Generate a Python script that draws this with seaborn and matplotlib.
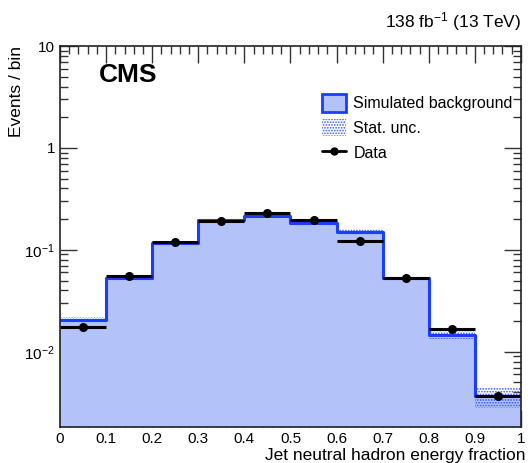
import numpy as np
import matplotlib
matplotlib.use("Agg")
import matplotlib.pyplot as plt
import matplotlib.ticker as mticker
from matplotlib.patches import Patch
from matplotlib.lines import Line2D
import seaborn as sns

# bin edges / centres of the jet neutral hadron energy fraction
edges = [0.0, 0.1, 0.2, 0.3, 0.4, 0.5, 0.6, 0.7, 0.8, 0.9, 1.0]
centers = [0.05, 0.15, 0.25, 0.35, 0.45, 0.55, 0.65, 0.75, 0.85, 0.95]

# simulated background (normalised) and data
background = [0.0206, 0.0535, 0.1176, 0.197, 0.216, 0.185, 0.150, 0.0528, 0.0147, 0.00365]
data = [0.0176, 0.0556, 0.119, 0.190, 0.232, 0.194, 0.123, 0.0525, 0.0169, 0.0037]
# relative stat. uncertainty on background
stat_unc = [0.06, 0.04, 0.03, 0.02, 0.02, 0.02, 0.06, 0.05, 0.10, 0.24]

sns.set_style("ticks")
plt.rcParams["font.family"] = ["Liberation Sans", "DejaVu Sans"]
plt.rcParams["mathtext.default"] = "regular"
plt.rcParams["hatch.linewidth"] = 0.8
for k in ["text.color", "axes.labelcolor", "xtick.color", "ytick.color"]:
    plt.rcParams[k] = "black"

fill_col = "#b3c2f9"
line_col = "#1a3dff"
unc_col = "#2f55ff"

fig = plt.figure(figsize=(5.28, 4.63), dpi=100)
ax = fig.add_axes([0.1136, 0.078, 0.873, 0.8226])

# background fill and outline
sns.histplot(x=centers, weights=background, bins=edges, element="step", fill=True,
             color=fill_col, alpha=1, linewidth=0, ax=ax)
sns.histplot(x=centers, weights=background, bins=edges, element="step", fill=False,
             color=line_col, linewidth=2.2, ax=ax)

# stat unc band
bg = np.array(background)
unc = np.array(stat_unc)
lo = np.append(bg * (1 - unc), bg[-1] * (1 - unc[-1]))
hi = np.append(bg * (1 + unc), bg[-1] * (1 + unc[-1]))
plt.rcParams["hatch.color"] = unc_col
ax.fill_between(edges, lo, hi, step="post", facecolor="none", edgecolor=unc_col,
                hatch="......", linewidth=0)

# data points
ax.errorbar(centers, data, xerr=0.05, fmt="o", color="black", markersize=5.5,
            elinewidth=2.2, capsize=0)

ax.set_yscale("log")
ax.set_xlim(0, 1)
ax.set_ylim(0.00183, 10)

ax.xaxis.set_major_locator(mticker.MultipleLocator(0.1))
ax.xaxis.set_minor_locator(mticker.MultipleLocator(0.02))
ax.xaxis.set_major_formatter(mticker.FuncFormatter(lambda v, p: "%g" % round(v, 2)))
ax.yaxis.set_major_locator(mticker.FixedLocator([0.01, 0.1, 1, 10]))
ax.yaxis.set_major_formatter(mticker.FixedFormatter(["$10^{-2}$", "$10^{-1}$", "1", "10"]))
ax.yaxis.set_minor_locator(mticker.LogLocator(base=10, subs=np.arange(2, 10)))
ax.yaxis.set_minor_formatter(mticker.NullFormatter())
ax.tick_params(which="both", direction="in", top=True, right=True, labelsize=11,
               width=1, color="#333333")
ax.tick_params(which="major", length=12)
ax.tick_params(which="minor", length=6)
for s in ax.spines.values():
    s.set_linewidth(1.2)
    s.set_color("#222222")

ax.set_xlabel("Jet neutral hadron energy fraction", fontsize=12.5, labelpad=1)
ax.xaxis.set_label_coords(1.01, -0.055)
ax.xaxis.label.set_ha("right")
ax.xaxis.label.set_va("top")
ax.set_ylabel("Events / bin", fontsize=12.5, loc="top", labelpad=0)

ax.text(0.085, 0.955, "CMS", transform=ax.transAxes, fontsize=19, fontweight="bold",
        va="top", ha="left")
ax.text(1.0, 1.035, "138 fb$^{-1}$ (13 TeV)", transform=ax.transAxes, fontsize=12.5,
        ha="right", va="bottom")

handles = [
    Patch(facecolor=fill_col, edgecolor=line_col, linewidth=2),
    Patch(facecolor="none", edgecolor=unc_col, hatch="......", linewidth=0),
    Line2D([0], [0], color="black", marker="o", markersize=5, linewidth=2),
]
labels = ["Simulated background", "Stat. unc.", "Data"]
ax.legend(handles, labels, loc="upper left", bbox_to_anchor=(0.555, 0.89), frameon=False,
          fontsize=11.5, handlelength=1.5, handleheight=1.3, labelspacing=0.45,
          handletextpad=0.45, borderaxespad=0)

fig.savefig("out.png", dpi=100)
